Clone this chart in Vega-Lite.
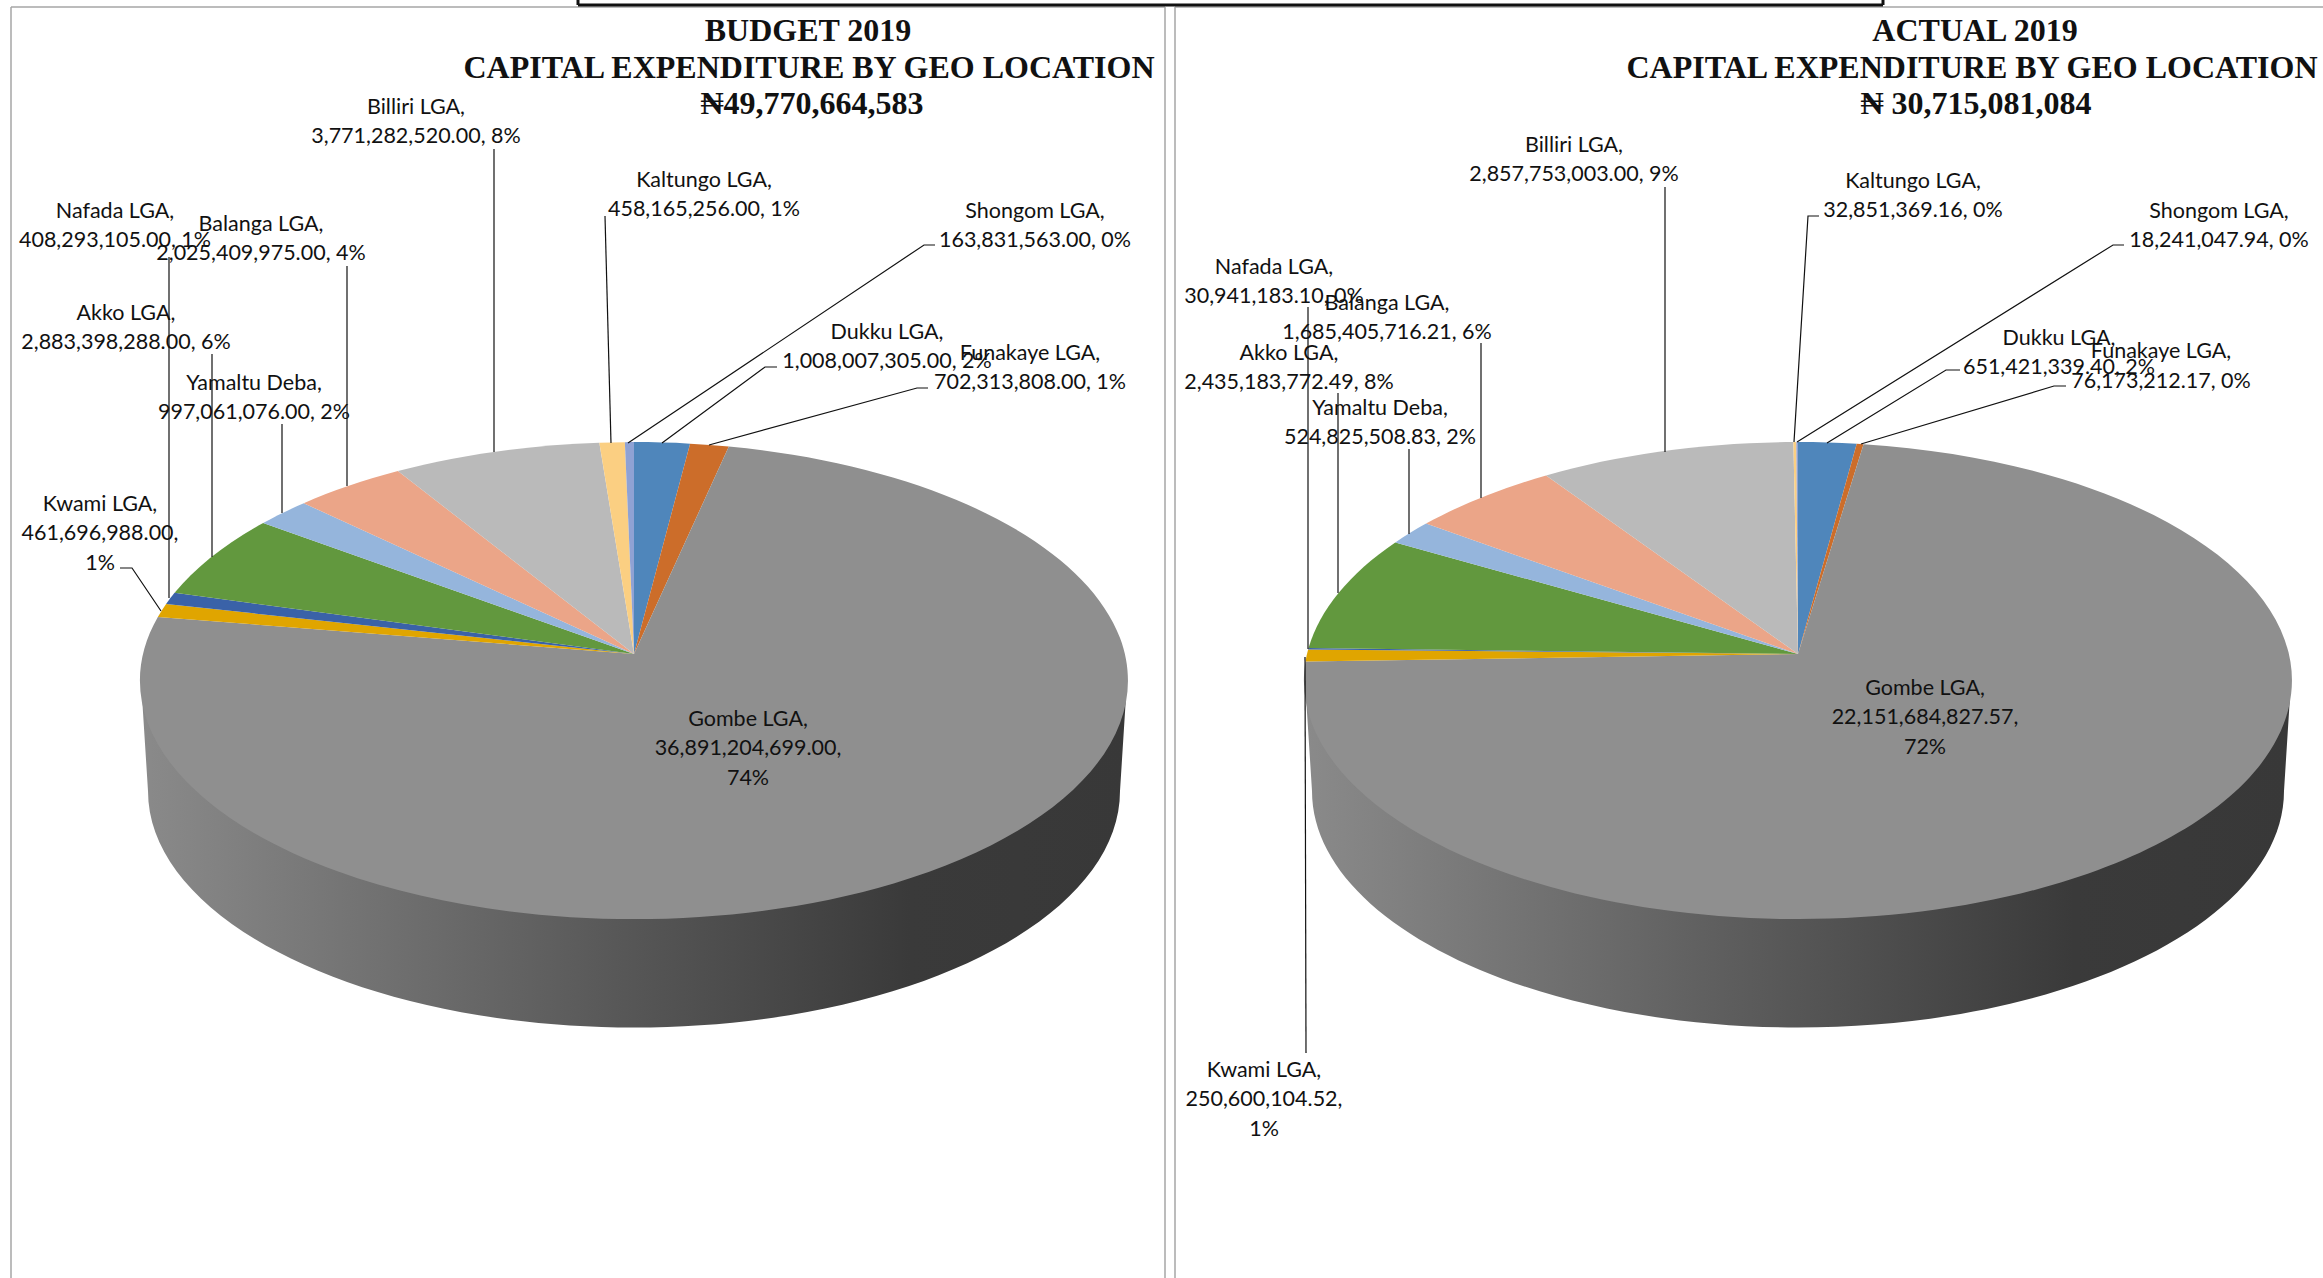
{
  "$schema": "https://vega.github.io/schema/vega-lite/v6.json",
  "width": 2323,
  "height": 1278,
  "padding": 0,
  "autosize": {"type": "none"},
  "background": "white",
  "view": {"stroke": null},
  "config": {"axis": {"disable": true}, "legend": {"disable": true}},
  "datasets": {
    "pies": [
      {"pie": "Budget", "cx": 634, "cy": 654},
      {"pie": "Actual", "cx": 1798, "cy": 654}
    ],
    "slices": [
      {"pie": "Budget", "rank": 1, "lga": "Dukku LGA", "value": 1008007305.00},
      {"pie": "Budget", "rank": 2, "lga": "Funakaye LGA", "value": 702313808.00},
      {"pie": "Budget", "rank": 3, "lga": "Gombe LGA", "value": 36891204699.00},
      {"pie": "Budget", "rank": 4, "lga": "Kwami LGA", "value": 461696988.00},
      {"pie": "Budget", "rank": 5, "lga": "Nafada LGA", "value": 408293105.00},
      {"pie": "Budget", "rank": 6, "lga": "Akko LGA", "value": 2883398288.00},
      {"pie": "Budget", "rank": 7, "lga": "Yamaltu Deba", "value": 997061076.00},
      {"pie": "Budget", "rank": 8, "lga": "Balanga LGA", "value": 2025409975.00},
      {"pie": "Budget", "rank": 9, "lga": "Billiri LGA", "value": 3771282520.00},
      {"pie": "Budget", "rank": 10, "lga": "Kaltungo LGA", "value": 458165256.00},
      {"pie": "Budget", "rank": 11, "lga": "Shongom LGA", "value": 163831563.00},
      {"pie": "Actual", "rank": 1, "lga": "Dukku LGA", "value": 651421339.40},
      {"pie": "Actual", "rank": 2, "lga": "Funakaye LGA", "value": 76173212.17},
      {"pie": "Actual", "rank": 3, "lga": "Gombe LGA", "value": 22151684827.57},
      {"pie": "Actual", "rank": 4, "lga": "Kwami LGA", "value": 250600104.52},
      {"pie": "Actual", "rank": 5, "lga": "Nafada LGA", "value": 30941183.10},
      {"pie": "Actual", "rank": 6, "lga": "Akko LGA", "value": 2435183772.49},
      {"pie": "Actual", "rank": 7, "lga": "Yamaltu Deba", "value": 524825508.83},
      {"pie": "Actual", "rank": 8, "lga": "Balanga LGA", "value": 1685405716.21},
      {"pie": "Actual", "rank": 9, "lga": "Billiri LGA", "value": 2857753003.00},
      {"pie": "Actual", "rank": 10, "lga": "Kaltungo LGA", "value": 32851369.16},
      {"pie": "Actual", "rank": 11, "lga": "Shongom LGA", "value": 18241047.94}
    ],
    "labels": [
      {"x": 416, "y": 96.5, "label": "Billiri LGA,\n3,771,282,520.00, 8%"},
      {"x": 704, "y": 169.5, "label": "Kaltungo LGA,\n458,165,256.00, 1%"},
      {"x": 1035, "y": 200.5, "label": "Shongom LGA,\n163,831,563.00, 0%"},
      {"x": 887, "y": 321.5, "label": "Dukku LGA,\n1,008,007,305.00, 2%"},
      {"x": 1030, "y": 342.5, "label": "Funakaye LGA,\n702,313,808.00, 1%"},
      {"x": 115, "y": 200.5, "label": "Nafada LGA,\n408,293,105.00, 1%"},
      {"x": 261, "y": 213.5, "label": "Balanga LGA,\n2,025,409,975.00, 4%"},
      {"x": 126, "y": 302.5, "label": "Akko LGA,\n2,883,398,288.00, 6%"},
      {"x": 254, "y": 372.5, "label": "Yamaltu Deba,\n997,061,076.00, 2%"},
      {"x": 100, "y": 493.5, "label": "Kwami LGA,\n461,696,988.00,\n1%"},
      {"x": 748, "y": 708.5, "label": "Gombe LGA,\n36,891,204,699.00,\n74%"},
      {"x": 1574, "y": 134.5, "label": "Billiri LGA,\n2,857,753,003.00, 9%"},
      {"x": 1913, "y": 170.5, "label": "Kaltungo LGA,\n32,851,369.16, 0%"},
      {"x": 2219, "y": 200.5, "label": "Shongom LGA,\n18,241,047.94, 0%"},
      {"x": 2059, "y": 327.5, "label": "Dukku LGA,\n651,421,339.40, 2%"},
      {"x": 2161, "y": 341, "label": "Funakaye LGA,\n76,173,212.17, 0%"},
      {"x": 1274, "y": 256.5, "label": "Nafada LGA,\n30,941,183.10, 0%"},
      {"x": 1387, "y": 292.5, "label": "Balanga LGA,\n1,685,405,716.21, 6%"},
      {"x": 1289, "y": 342.5, "label": "Akko LGA,\n2,435,183,772.49, 8%"},
      {"x": 1380, "y": 397.5, "label": "Yamaltu Deba,\n524,825,508.83, 2%"},
      {"x": 1264, "y": 1059.5, "label": "Kwami LGA,\n250,600,104.52,\n1%"},
      {"x": 1925, "y": 677.5, "label": "Gombe LGA,\n22,151,684,827.57,\n72%"}
    ],
    "leaders": [
      {"id": "b-billiri", "seq": 1, "x": 494, "y": 149},
      {"id": "b-billiri", "seq": 2, "x": 494, "y": 452},
      {"id": "b-balanga", "seq": 1, "x": 347, "y": 266},
      {"id": "b-balanga", "seq": 2, "x": 347, "y": 486},
      {"id": "b-yamaltu", "seq": 1, "x": 282, "y": 424},
      {"id": "b-yamaltu", "seq": 2, "x": 282, "y": 513},
      {"id": "b-akko", "seq": 1, "x": 212, "y": 354},
      {"id": "b-akko", "seq": 2, "x": 212, "y": 557},
      {"id": "b-nafada", "seq": 1, "x": 169, "y": 257},
      {"id": "b-nafada", "seq": 2, "x": 169, "y": 598},
      {"id": "b-kwami", "seq": 1, "x": 120, "y": 568},
      {"id": "b-kwami", "seq": 2, "x": 132, "y": 568},
      {"id": "b-kwami", "seq": 3, "x": 161, "y": 611},
      {"id": "b-kaltungo", "seq": 1, "x": 605, "y": 216},
      {"id": "b-kaltungo", "seq": 2, "x": 611, "y": 443},
      {"id": "b-shongom", "seq": 1, "x": 935, "y": 245},
      {"id": "b-shongom", "seq": 2, "x": 924, "y": 245},
      {"id": "b-shongom", "seq": 3, "x": 628, "y": 443},
      {"id": "b-dukku", "seq": 1, "x": 777, "y": 367},
      {"id": "b-dukku", "seq": 2, "x": 765, "y": 367},
      {"id": "b-dukku", "seq": 3, "x": 662, "y": 443},
      {"id": "b-funakaye", "seq": 1, "x": 928, "y": 388},
      {"id": "b-funakaye", "seq": 2, "x": 917, "y": 388},
      {"id": "b-funakaye", "seq": 3, "x": 709, "y": 445},
      {"id": "a-billiri", "seq": 1, "x": 1665, "y": 187},
      {"id": "a-billiri", "seq": 2, "x": 1665, "y": 452},
      {"id": "a-balanga", "seq": 1, "x": 1481, "y": 343},
      {"id": "a-balanga", "seq": 2, "x": 1481, "y": 498},
      {"id": "a-yamaltu", "seq": 1, "x": 1409, "y": 449},
      {"id": "a-yamaltu", "seq": 2, "x": 1409, "y": 534},
      {"id": "a-akko", "seq": 1, "x": 1338, "y": 393},
      {"id": "a-akko", "seq": 2, "x": 1338, "y": 593},
      {"id": "a-nafada", "seq": 1, "x": 1308, "y": 307},
      {"id": "a-nafada", "seq": 2, "x": 1308, "y": 649},
      {"id": "a-kwami", "seq": 1, "x": 1306, "y": 1053},
      {"id": "a-kwami", "seq": 2, "x": 1305, "y": 657},
      {"id": "a-kaltungo", "seq": 1, "x": 1819, "y": 216},
      {"id": "a-kaltungo", "seq": 2, "x": 1808, "y": 216},
      {"id": "a-kaltungo", "seq": 3, "x": 1794, "y": 442},
      {"id": "a-shongom", "seq": 1, "x": 2124, "y": 245},
      {"id": "a-shongom", "seq": 2, "x": 2113, "y": 245},
      {"id": "a-shongom", "seq": 3, "x": 1797, "y": 442},
      {"id": "a-dukku", "seq": 1, "x": 1960, "y": 370},
      {"id": "a-dukku", "seq": 2, "x": 1946, "y": 370},
      {"id": "a-dukku", "seq": 3, "x": 1827, "y": 443},
      {"id": "a-funakaye", "seq": 1, "x": 2066, "y": 386},
      {"id": "a-funakaye", "seq": 2, "x": 2054, "y": 386},
      {"id": "a-funakaye", "seq": 3, "x": 1861, "y": 444}
    ],
    "titles": [
      {"x": 808, "y": 31, "text": "BUDGET 2019"},
      {"x": 809, "y": 68, "text": "CAPITAL EXPENDITURE BY GEO LOCATION"},
      {"x": 812, "y": 104, "text": "₦49,770,664,583"},
      {"x": 1975, "y": 31, "text": "ACTUAL 2019"},
      {"x": 1972, "y": 68, "text": "CAPITAL EXPENDITURE BY GEO LOCATION"},
      {"x": 1976, "y": 104, "text": "₦ 30,715,081,084"}
    ],
    "panelEdges": [
      {"x": 11, "x2": 11, "y": 7, "y2": 1278},
      {"x": 11, "x2": 1165, "y": 7, "y2": 7},
      {"x": 1165, "x2": 1165, "y": 7, "y2": 1278},
      {"x": 1175, "x2": 1175, "y": 7, "y2": 1278},
      {"x": 1175, "x2": 2323, "y": 7, "y2": 7}
    ],
    "boxEdges": [
      {"x": 578, "x2": 578, "y": 0, "y2": 5},
      {"x": 578, "x2": 1883, "y": 5, "y2": 5},
      {"x": 1883, "x2": 1883, "y": 0, "y2": 5}
    ]
  },
  "layer": [
    {
      "data": {"name": "panelEdges"},
      "mark": {"type": "rule", "stroke": "#a6a6a6", "strokeWidth": 1.5},
      "encoding": {
        "x": {"field": "x", "type": "quantitative", "scale": {"domain": [0, 2323], "nice": false, "zero": false}},
        "y": {"field": "y", "type": "quantitative", "scale": {"domain": [0, 1278], "reverse": true, "nice": false, "zero": false}},
        "x2": {"field": "x2"},
        "y2": {"field": "y2"}
      }
    },
    {
      "data": {"name": "boxEdges"},
      "mark": {"type": "rule", "stroke": "#111111", "strokeWidth": 3},
      "encoding": {
        "x": {"field": "x", "type": "quantitative"},
        "y": {"field": "y", "type": "quantitative"},
        "x2": {"field": "x2"},
        "y2": {"field": "y2"}
      }
    },
    {
      "description": "Wall of the tilted disc, shaded left to right; its top edge runs behind the top face",
      "data": {"name": "pies"},
      "mark": {
        "type": "point",
        "filled": true,
        "opacity": 1,
        "strokeWidth": 0,
        "size": 4,
        "shape": "M-493,26.7 L493,26.7 L486,137 A486,236.5 0 0 1 -486,137 Z",
        "fill": {
          "gradient": "linear",
          "x1": 0, "y1": 0, "x2": 1, "y2": 0,
          "stops": [
            {"offset": 0, "color": "#8a8a8a"},
            {"offset": 0.5, "color": "#565656"},
            {"offset": 0.78, "color": "#3a3a3a"},
            {"offset": 1, "color": "#383838"}
          ]
        }
      },
      "encoding": {
        "x": {"field": "cx", "type": "quantitative"},
        "y": {"field": "cy", "type": "quantitative"}
      }
    },
    {
      "description": "Top face: each wedge's sweep comes from its value, projected onto the tilted disc",
      "data": {"name": "slices"},
      "transform": [
        {"lookup": "pie", "from": {"data": {"name": "pies"}, "key": "pie", "fields": ["cx", "cy"]}},
        {"joinaggregate": [{"op": "sum", "field": "value", "as": "total"}], "groupby": ["pie"]},
        {"stack": "value", "groupby": ["pie"], "sort": [{"field": "rank", "order": "ascending"}], "as": ["v0", "v1"]},
        {"calculate": "2 * PI * datum.v0 / datum.total", "as": "t0"},
        {"calculate": "2 * PI * datum.v1 / datum.total", "as": "t1"},
        {"calculate": "'M0,0L' + (491 * sin(datum.t0) / (1 + 0.1118 * cos(datum.t0))) + ',' + (-235.6 * cos(datum.t0) / (1 + 0.1118 * cos(datum.t0))) + 'A494,238.5 0 ' + (datum.t1 - datum.t0 > PI ? 1 : 0) + ' 1 ' + (491 * sin(datum.t1) / (1 + 0.1118 * cos(datum.t1))) + ',' + (-235.6 * cos(datum.t1) / (1 + 0.1118 * cos(datum.t1))) + 'Z'", "as": "wedge"}
      ],
      "mark": {"type": "point", "filled": true, "opacity": 1, "strokeWidth": 0, "size": 4},
      "encoding": {
        "x": {"field": "cx", "type": "quantitative"},
        "y": {"field": "cy", "type": "quantitative"},
        "shape": {"field": "wedge", "type": "nominal", "scale": null},
        "color": {
          "field": "lga",
          "type": "nominal",
          "scale": {
            "domain": ["Dukku LGA", "Funakaye LGA", "Gombe LGA", "Kwami LGA", "Nafada LGA", "Akko LGA", "Yamaltu Deba", "Balanga LGA", "Billiri LGA", "Kaltungo LGA", "Shongom LGA"],
            "range": ["#4f86bb", "#cc6d2a", "#8f8f8f", "#e0a500", "#3a62a8", "#62983e", "#95b5dc", "#eba588", "#bababa", "#fbcf82", "#8fa2d4"]
          },
          "legend": null
        }
      }
    },
    {
      "data": {"name": "leaders"},
      "mark": {"type": "line", "stroke": "#111111", "strokeWidth": 1.2, "interpolate": "linear"},
      "encoding": {
        "x": {"field": "x", "type": "quantitative"},
        "y": {"field": "y", "type": "quantitative"},
        "detail": {"field": "id"},
        "order": {"field": "seq", "type": "quantitative"}
      }
    },
    {
      "data": {"name": "labels"},
      "mark": {"type": "text", "font": "Lato", "fontSize": 21.5, "lineHeight": 29.6, "lineBreak": "\n", "align": "center", "baseline": "top", "color": "#111111"},
      "encoding": {
        "x": {"field": "x", "type": "quantitative"},
        "y": {"field": "y", "type": "quantitative"},
        "text": {"field": "label", "type": "nominal"}
      }
    },
    {
      "data": {"name": "titles"},
      "mark": {"type": "text", "font": "Liberation Serif", "fontWeight": "bold", "fontSize": 32, "align": "center", "baseline": "middle", "color": "#111111"},
      "encoding": {
        "x": {"field": "x", "type": "quantitative"},
        "y": {"field": "y", "type": "quantitative"},
        "text": {"field": "text", "type": "nominal"}
      }
    }
  ]
}
